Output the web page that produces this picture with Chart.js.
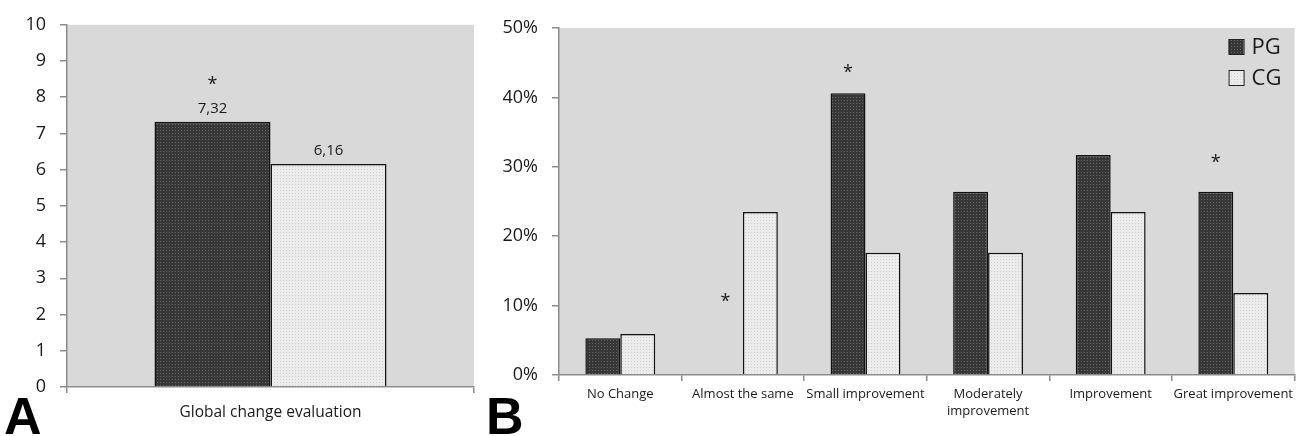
<!DOCTYPE html>
<html>
<head>
<meta charset="utf-8">
<script src="https://cdn.jsdelivr.net/npm/chart.js@4/dist/chart.umd.min.js"></script>
<style>
  body { margin: 0; background: #fff; width: 1298px; height: 436px; overflow: hidden; position: relative; font-family: "Open Sans", sans-serif; }
  .panel { position: absolute; top: 0; height: 436px; }
  #wrapA { left: 0; width: 480px; }
  #wrapB { left: 480px; width: 818px; }
  .tag { position: absolute; font-family: "Liberation Sans", Arial, sans-serif; font-weight: bold; font-size: 52px; line-height: 1; color: #000; }
</style>
</head>
<body>
<div class="panel" id="wrapA"><canvas id="chartA"></canvas></div>
<div class="panel" id="wrapB"><canvas id="chartB"></canvas></div>
<div class="tag" style="left:4px; top:390px;">A</div>
<div class="tag" style="left:486px; top:390px;">B</div>
<script>
// panel A data
const labelsA = ['Global change evaluation'];
const pgA = [7.32];
const cgA = [6.16];
const starsA = [8.45];

// panel B data
const labelsB = ['No Change', 'Almost the same', 'Small improvement', ['Moderately', 'improvement'], 'Improvement', 'Great improvement'];
const pgB = [5.3, 0, 40.6, 26.4, 31.7, 26.4];
const cgB = [5.9, 23.5, 17.6, 17.6, 23.5, 11.8];
const starsB = [null, 11.1, 44.1, null, null, 31.1];

const FONT = '"Open Sans", sans-serif';
const TXT = '#1a1a1a';

function makePattern(bg, dot) {
    const c = document.createElement('canvas');
    c.width = 3; c.height = 3;
    const g = c.getContext('2d');
    g.fillStyle = bg;
    g.fillRect(0, 0, 3, 3);
    g.fillStyle = dot;
    g.fillRect(1, 1, 1, 1);
    return g.createPattern(c, 'repeat');
}
const darkFill = makePattern('#373737', '#686868');
const lightFill = makePattern('#ececec', '#cfcfcf');

const areaBg = {
    id: 'areaBg',
    beforeDraw(chart) {
        const a = chart.chartArea, ctx = chart.ctx;
        ctx.save();
        ctx.fillStyle = '#d9d9d9';
        ctx.fillRect(a.left, a.top, a.right - a.left, a.bottom - a.top);
        ctx.restore();
    }
};

// asterisks and value labels over bars
const marks = {
    id: 'marks',
    afterDatasetsDraw(chart) {
        const ctx = chart.ctx, y = chart.scales.y;
        ctx.save();
        ctx.fillStyle = TXT;
        ctx.textAlign = 'center';
        chart.data.datasets.forEach((ds, i) => {
            const meta = chart.getDatasetMeta(i);
            if (ds.showValues) {
                ctx.font = '15px ' + FONT;
                ctx.textBaseline = 'bottom';
                ds.data.forEach((v, j) => {
                    const bar = meta.data[j];
                    ctx.fillText(v.toFixed(2).replace('.', ','), bar.x, bar.y - 6);
                });
            }
            if (ds.stars) {
                ctx.font = '18px ' + FONT;
                ctx.textBaseline = 'middle';
                ds.stars.forEach((s, j) => {
                    if (s == null) return;
                    ctx.fillText('*', meta.data[j].x, y.getPixelForValue(s) + 4);
                });
            }
        });
        ctx.restore();
    }
};

// legend drawn inside the plot area, top right
const innerLegend = {
    id: 'innerLegend',
    afterDraw(chart) {
        if (!chart.options.plugins.innerLegend) return;
        const ctx = chart.ctx, a = chart.chartArea;
        ctx.save();
        ctx.font = '22px ' + FONT;
        ctx.textBaseline = 'middle';
        ctx.textAlign = 'left';
        chart.data.datasets.forEach((ds, i) => {
            const x = a.right - 66, top = a.top + 11 + i * 31;
            ctx.fillStyle = ds.backgroundColor;
            ctx.fillRect(x, top, 15, 15);
            ctx.strokeStyle = '#222';
            ctx.lineWidth = 1;
            ctx.strokeRect(x + 0.5, top + 0.5, 15, 15);
            ctx.fillStyle = TXT;
            ctx.fillText(ds.label, x + 23, top + 9);
        });
        ctx.restore();
    }
};

function barOptions(o) {
    return {
        responsive: true,
        maintainAspectRatio: false,
        animation: false,
        devicePixelRatio: 1,
        layout: { padding: { top: o.top, right: o.right, left: 0, bottom: 0 } },
        plugins: { legend: { display: false }, tooltip: { enabled: false }, innerLegend: o.legend },
        scales: {
            x: {
                afterFit: s => { s.height = o.xh; },
                border: { color: '#8c8c8c', width: 1.5 },
                grid: { drawOnChartArea: false, tickLength: 6, color: '#8c8c8c', lineWidth: 1.5, offset: true },
                ticks: { color: TXT, font: { family: FONT, size: o.xfont, lineHeight: 1.3 }, padding: o.xpad, maxRotation: 0, autoSkip: false }
            },
            y: {
                min: 0, max: o.max,
                afterFit: s => { s.width = o.yw; },
                border: { color: '#8c8c8c', width: 1.5 },
                grid: { drawOnChartArea: false, tickLength: 7, color: '#8c8c8c', lineWidth: 1.5 },
                ticks: { stepSize: o.step, color: TXT, font: { family: FONT, size: 18 }, padding: o.ypad, callback: o.fmt }
            }
        }
    };
}

new Chart(document.getElementById('chartA'), {
    type: 'bar',
    data: {
        labels: labelsA,
        datasets: [
            { label: 'PG', data: pgA, stars: starsA, showValues: true, backgroundColor: darkFill, borderColor: '#111', borderWidth: 1.5, categoryPercentage: 0.57, barPercentage: 1 },
            { label: 'CG', data: cgA, showValues: true, backgroundColor: lightFill, borderColor: '#111', borderWidth: 1.5, categoryPercentage: 0.57, barPercentage: 1 }
        ]
    },
    options: barOptions({ top: 21, right: 6, xh: 49, yw: 67, max: 10, step: 1, xfont: 15.5, xpad: 10, ypad: 14, fmt: v => v, legend: false }),
    plugins: [areaBg, marks]
});

new Chart(document.getElementById('chartB'), {
    type: 'bar',
    data: {
        labels: labelsB,
        datasets: [
            { label: 'PG', data: pgB, stars: starsB, backgroundColor: darkFill, borderColor: '#111', borderWidth: 1.5, categoryPercentage: 0.57, barPercentage: 1 },
            { label: 'CG', data: cgB, backgroundColor: lightFill, borderColor: '#111', borderWidth: 1.5, categoryPercentage: 0.57, barPercentage: 1 }
        ]
    },
    options: barOptions({ top: 28, right: 0, xh: 61, yw: 79, max: 50, step: 10, xfont: 13, xpad: 5, ypad: 14, fmt: v => v + '%', legend: true }),
    plugins: [areaBg, marks, innerLegend]
});
</script>
</body>
</html>
